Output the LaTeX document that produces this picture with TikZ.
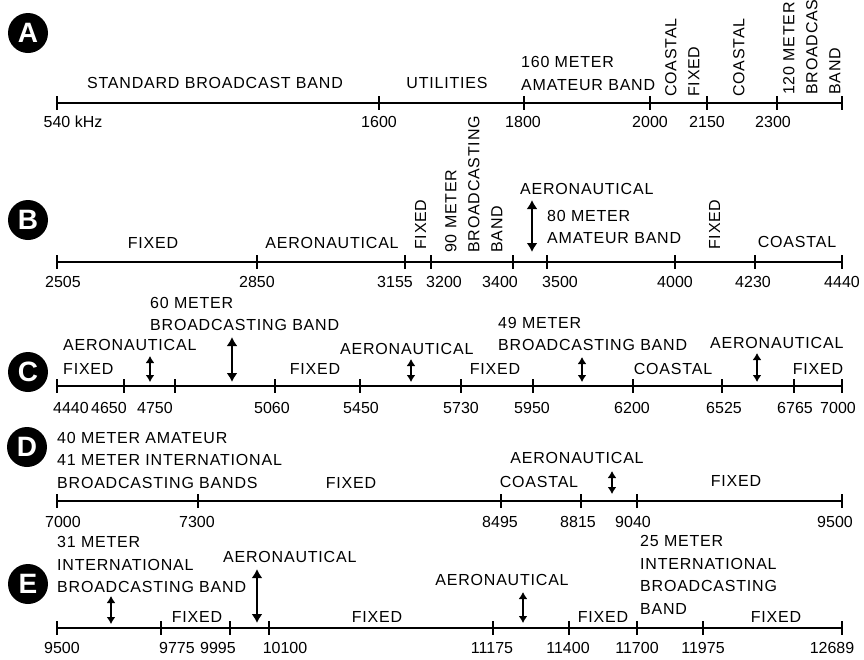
\documentclass[tikz,border=0pt]{standalone}
\usepackage{fontspec}
\setmainfont[LetterSpace=5]{Liberation Sans}
\newfontfamily\numfont{Liberation Sans}
\usetikzlibrary{arrows.meta}
\begin{document}
\begin{tikzpicture}[x=1pt,y=-1pt,
 lbl/.style={inner sep=0pt, font=\fontsize{16}{22.5}\selectfont},
 ml/.style={lbl, align=left, anchor=west},
 rot/.style={inner sep=0pt, align=left, rotate=90, anchor=north west, font=\fontsize{16}{23}\selectfont},
 num/.style={inner sep=0pt, font=\numfont\fontsize{16}{19}\selectfont},
 axis/.style={line width=1.8pt},
 tickmark/.style={line width=1.5pt},
 dbl/.style={line width=1.8pt, {Latex[length=9pt,width=11pt]}-{Latex[length=9pt,width=11pt]}},
 sdbl/.style={line width=1.8pt, {Latex[length=7pt,width=9pt]}-{Latex[length=7pt,width=9pt]}},
 badge/.style={circle, fill=black, minimum size=40pt, inner sep=0pt, text=white, font=\numfont\bfseries\fontsize{28}{28}\selectfont}
]
\fill[white] (0,0) rectangle (864,659);
\useasboundingbox (0,0) rectangle (864,659);

% ---------- badges
\node[badge] (bA) at (28,33) {A};
\node[badge] (bB) at (28,220) {B};
\node[badge] (bC) at (28,372) {C};
\node[badge] (bD) at (27,447) {D};
\node[badge] (bE) at (28,584) {E};

% ---------- row A
\foreach \n/\x in {0/57,1/379,2/524,3/650,4/707,5/777,6/842} {\coordinate (A\n) at (\x,103);}
\draw[axis] (A0) -- (A6);
\foreach \n in {0,...,6} {\draw[tickmark] ([yshift=7pt]A\n) -- ([yshift=-7pt]A\n);}
\node[num] (nA0) at (73,122) {540 kHz};
\node[num] (nA1) at (379,122) {1600};
\node[num] (nA2) at (523,122) {1800};
\node[num] (nA3) at (650,122) {2000};
\node[num] (nA4) at (707,122) {2150};
\node[num] (nA5) at (773,122) {2300};
\node[lbl] (a1) at (215,83) {STANDARD BROADCAST BAND};
\node[lbl] (a2) at (447,83) {UTILITIES};
\node[ml] (a3) at (521,73.5) {160 METER\\AMATEUR BAND};
\node[rot] (a4) at (665,97) {COASTAL\\FIXED};
\node[rot] (a5) at (733,97) {COASTAL};
\node[rot] (a6) at (783,95) {120 METER\\BROADCAS\\BAND};

% ---------- row B
\foreach \n/\x in {0/57,1/257,2/405,3/431,4/513,5/547,6/675,7/755,8/842} {\coordinate (B\n) at (\x,262);}
\draw[axis] (B0) -- (B8);
\foreach \n in {0,...,8} {\draw[tickmark] ([yshift=7pt]B\n) -- ([yshift=-7pt]B\n);}
\node[num] (nB0) at (63,282) {2505};
\node[num] (nB1) at (257,282) {2850};
\node[num] (nB2) at (395,282) {3155};
\node[num] (nB3) at (444,282) {3200};
\node[num] (nB4) at (500,282) {3400};
\node[num] (nB5) at (560,282) {3500};
\node[num] (nB6) at (675,282) {4000};
\node[num] (nB7) at (753,282) {4230};
\node[num] (nB8) at (842,282) {4440};
\node[lbl] (b1) at (153,243) {FIXED};
\node[lbl] (b2) at (332,243) {AERONAUTICAL};
\node[rot] (b3) at (415,250) {FIXED};
\node[rot] (b4) at (445,253) {90 METER\\BROADCASTING\\BAND};
\node[ml] (b5) at (520,189) {AERONAUTICAL};
\node[ml] (b6) at (547,227) {80 METER\\AMATEUR BAND};
\node[rot] (b7) at (709,250) {FIXED};
\node[lbl] (b8) at (797,242) {COASTAL};
\coordinate (bt) at (532,200); \coordinate (bb) at (532,252);
\draw[dbl] (bt) -- (bb);

% ---------- row C
\foreach \n/\x in {0/57,1/124,2/175,3/275,4/360,5/461,6/533,7/633,8/722,9/794,10/842} {\coordinate (C\n) at (\x,386);}
\draw[axis] (C0) -- (C10);
\foreach \n in {0,...,10} {\draw[tickmark] ([yshift=7pt]C\n) -- ([yshift=-7pt]C\n);}
\node[num] (nC0) at (71,408) {4440};
\node[num] (nC1) at (109,408) {4650};
\node[num] (nC2) at (155,408) {4750};
\node[num] (nC3) at (272,408) {5060};
\node[num] (nC4) at (361,408) {5450};
\node[num] (nC5) at (461,408) {5730};
\node[num] (nC6) at (532,408) {5950};
\node[num] (nC7) at (632,408) {6200};
\node[num] (nC8) at (724,408) {6525};
\node[num] (nC9) at (795,408) {6765};
\node[num] (nC10) at (838,408) {7000};
\node[ml] (c1) at (63,345) {AERONAUTICAL};
\node[ml] (c2) at (63,369) {FIXED};
\node[ml] (c3) at (150,314) {60 METER\\BROADCASTING BAND};
\node[lbl] (c4) at (315,369) {FIXED};
\node[ml] (c5) at (340,349) {AERONAUTICAL};
\node[lbl] (c6) at (495,369) {FIXED};
\node[ml] (c7) at (498,334) {49 METER\\BROADCASTING BAND};
\node[lbl] (c8) at (673,369) {COASTAL};
\node[ml] (c9) at (710,343) {AERONAUTICAL};
\node[lbl] (c10) at (818,369) {FIXED};
\coordinate (c1t) at (150,356); \coordinate (c1b) at (150,382);
\coordinate (c2t) at (232,337); \coordinate (c2b) at (232,382);
\coordinate (c3t) at (411,359); \coordinate (c3b) at (411,382);
\coordinate (c4t) at (582,357); \coordinate (c4b) at (582,382);
\coordinate (c5t) at (757,353); \coordinate (c5b) at (757,382);
\draw[sdbl] (c1t) -- (c1b);
\draw[dbl] (c2t) -- (c2b);
\draw[sdbl] (c3t) -- (c3b);
\draw[sdbl] (c4t) -- (c4b);
\draw[sdbl] (c5t) -- (c5b);

% ---------- row D
\foreach \n/\x in {0/57,1/198,2/501,3/581,4/637,5/842} {\coordinate (D\n) at (\x,501);}
\draw[axis] (D0) -- (D5);
\foreach \n in {0,...,5} {\draw[tickmark] ([yshift=7pt]D\n) -- ([yshift=-7pt]D\n);}
\node[num] (nD0) at (63,522) {7000};
\node[num] (nD1) at (197,522) {7300};
\node[num] (nD2) at (500,522) {8495};
\node[num] (nD3) at (578,522) {8815};
\node[num] (nD4) at (633,522) {9040};
\node[num] (nD5) at (835,522) {9500};
\node[ml] (d1) at (57,460) {40 METER AMATEUR\\41 METER INTERNATIONAL\\BROADCASTING BANDS};
\node[lbl] (d2) at (351,483) {FIXED};
\node[lbl] (d3) at (577,458) {AERONAUTICAL};
\node[lbl] (d4) at (539,482) {COASTAL};
\node[lbl] (d5) at (736,481) {FIXED};
\coordinate (dt) at (612,471); \coordinate (db) at (612,494);
\draw[sdbl] (dt) -- (db);

% ---------- row E
\foreach \n/\x in {0/57,1/161,2/230,3/269,4/493,5/569,6/637,7/703,8/842} {\coordinate (E\n) at (\x,628);}
\draw[axis] (E0) -- (E8);
\foreach \n in {0,...,8} {\draw[tickmark] ([yshift=7pt]E\n) -- ([yshift=-7pt]E\n);}
\node[num] (nE0) at (62,648) {9500};
\node[num] (nE1) at (177,648) {9775};
\node[num] (nE2) at (218,648) {9995};
\node[num] (nE3) at (285,648) {10100};
\node[num] (nE4) at (492,648) {11175};
\node[num] (nE5) at (568,648) {11400};
\node[num] (nE6) at (637,648) {11700};
\node[num] (nE7) at (703,648) {11975};
\node[num] (nE8) at (832,648) {12689};
\node[ml] (e1) at (57,564.5) {31 METER\\INTERNATIONAL\\BROADCASTING BAND};
\node[lbl] (e2) at (197,617) {FIXED};
\node[ml] (e3) at (223,557) {AERONAUTICAL};
\node[lbl] (e4) at (377,617) {FIXED};
\node[lbl] (e5) at (502,580) {AERONAUTICAL};
\node[lbl] (e6) at (603,617) {FIXED};
\node[ml] (e7) at (640,575) {25 METER\\INTERNATIONAL\\BROADCASTING\\BAND};
\node[lbl] (e8) at (776,617) {FIXED};
\coordinate (e1t) at (111,596); \coordinate (e1b) at (111,624);
\coordinate (e2t) at (257,569); \coordinate (e2b) at (257,623);
\coordinate (e3t) at (523,592); \coordinate (e3b) at (523,623);
\draw[sdbl] (e1t) -- (e1b);
\draw[dbl] (e2t) -- (e2b);
\draw[sdbl] (e3t) -- (e3b);
\end{tikzpicture}
\end{document}
